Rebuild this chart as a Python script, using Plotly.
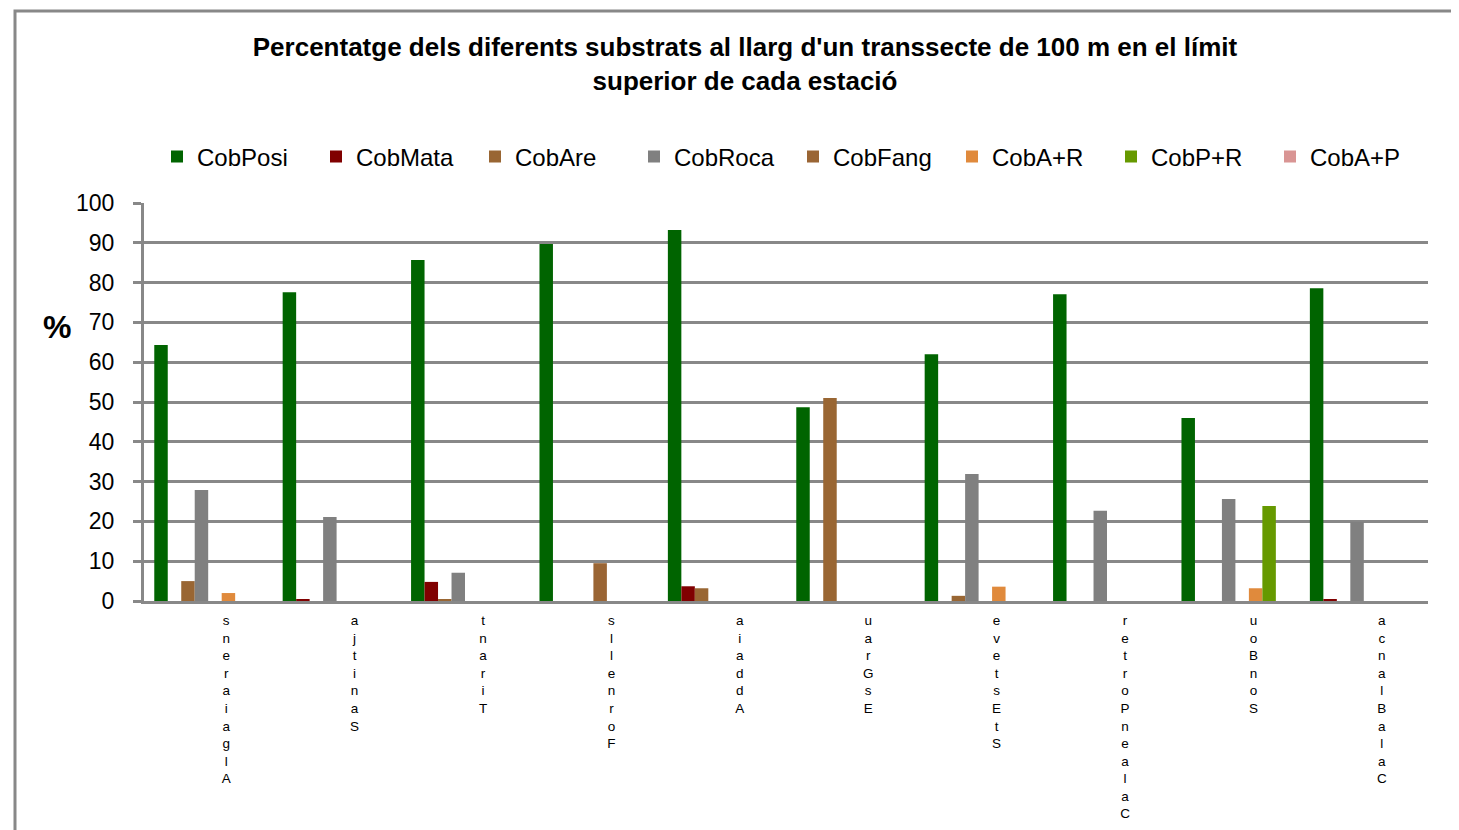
import plotly.graph_objects as go

stations = ["Algaiarens", "Sanitja", "Tirant", "Fornells", "Addaia", "Es Grau",
            "St Esteve", "Cala en Porter", "Son Bou", "Cala Blanca"]

series_names = ["CobPosi", "CobMata", "CobAre", "CobRoca", "CobFang", "CobA+R", "CobP+R", "CobA+P"]

cob_posi = [64.3, 77.6, 85.7, 89.7, 93.2, 48.7, 62.0, 77.1, 46.0, 78.6]
cob_mata = [0, 0.5, 4.8, 0, 3.7, 0, 0, 0, 0, 0.5]
cob_are = [5.0, 0, 0.5, 0, 3.2, 51.0, 1.3, 0, 0, 0]
cob_roca = [27.9, 21.1, 7.1, 0, 0, 0, 31.9, 22.7, 25.6, 19.9]
cob_fang = [0, 0, 0, 9.5, 0, 0, 0, 0, 0, 0]
cob_ar = [2.0, 0, 0, 0, 0, 0, 3.6, 0, 3.2, 0]
cob_pr = [0, 0, 0, 0, 0, 0, 0, 0, 23.9, 0]
cob_ap = [0, 0, 0, 0, 0, 0, 0, 0, 0, 0]

colors = ["#006400", "#800000", "#996633", "#808080", "#9a6534", "#e08a3c", "#669900", "#d99594"]

y_ticks = [0, 10, 20, 30, 40, 50, 60, 70, 80, 90, 100]

values = [cob_posi, cob_mata, cob_are, cob_roca, cob_fang, cob_ar, cob_pr, cob_ap]

# Stacked (vertical) category labels, letters shown bottom-to-top as in the source
tick_text = ["<br>".join(reversed(list(s.replace(" ", "")))) for s in stations]

FONT = "Liberation Sans, Arial, sans-serif"
OFF = 8  # page body margin
W, H = 1459 - OFF, 830 - OFF
ML, MR, MT, MB = 144 - OFF, 31, 203 - OFF, 229

fig = go.Figure()
for name, vals, col in zip(series_names, values, colors):
    fig.add_trace(go.Bar(name=name, x=stations, y=vals, marker=dict(color=col, line=dict(width=0))))

pw = W - ML - MR
ph = H - MT - MB
def px_x(p):  # absolute page px -> paper fraction
    return (p - OFF - ML) / pw
def px_y(p):
    return (H - MB - (p - OFF)) / ph

fig.update_layout(
    width=W, height=H,
    margin=dict(l=ML, r=MR, t=MT, b=MB, autoexpand=False),
    paper_bgcolor="white", plot_bgcolor="white",
    barmode="group", bargap=0.16, bargroupgap=0,
    font=dict(family=FONT, color="black", size=22),
    title=dict(
        text="Percentatge dels diferents substrats al llarg d'un transsecte de 100 m en el límit<br>superior de cada estació",
        font=dict(family=FONT, size=26, color="black", weight="bold"),
        x=(745 - OFF) / W, xanchor="center", xref="container",
        y=1 - 48 / H, yanchor="top", yref="container",
    ),
    legend=dict(
        orientation="h", xref="container", yref="container",
        x=149 / W, xanchor="left", y=1 - (157 - OFF) / H, yanchor="middle",
        font=dict(family=FONT, size=24, color="black"),
        entrywidth=114, entrywidthmode="pixels",
        traceorder="normal", bgcolor="rgba(0,0,0,0)",
    ),
    showlegend=True,
    xaxis=dict(
        type="category", tickmode="array", tickvals=stations, ticktext=tick_text,
        showgrid=False, showline=True, linecolor="#888888", linewidth=3,
        ticks="", tickfont=dict(family=FONT, size=13.5, color="black"),
        tickangle=0, ticklabelshift=18, ticklabelstandoff=5, automargin=False,
    ),
    yaxis=dict(
        range=[0, 100], tickmode="array", tickvals=y_ticks,
        showgrid=True, gridcolor="#888888", gridwidth=3,
        showline=True, linecolor="#888888", linewidth=3,
        ticks="outside", ticklen=8, tickwidth=3, tickcolor="#888888",
        tickfont=dict(family=FONT, size=23, color="black"),
        zeroline=False, ticklabelstandoff=14, automargin=False,
    ),
    annotations=[dict(
        text="<b>%</b>", xref="paper", yref="paper", x=px_x(57), y=px_y(327),
        xanchor="center", yanchor="middle", showarrow=False,
        font=dict(family=FONT, size=32, color="black"),
    )],
    shapes=[dict(
        type="path", xref="paper", yref="paper",
        path=f"M {px_x(15)} {px_y(850)} L {px_x(15)} {px_y(11)} L {px_x(1480)} {px_y(11)}",
        line=dict(color="#888888", width=3),
    )],
)

fig.write_html("out.html")
